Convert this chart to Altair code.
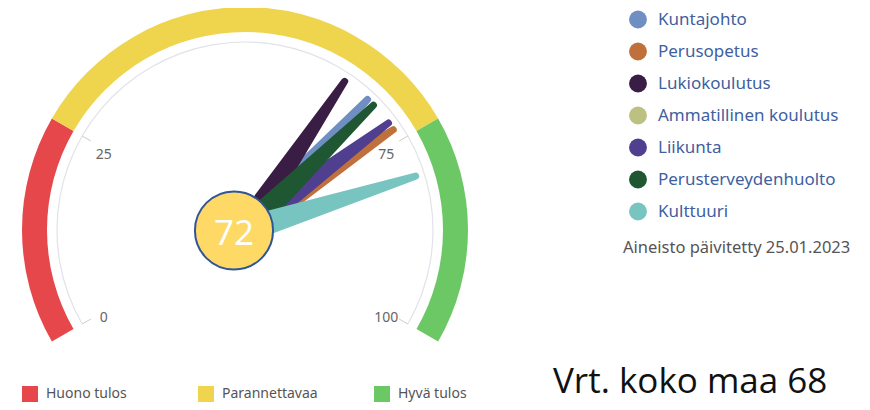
import math
import altair as alt
import pandas as pd

# ---------------- data ----------------
series = ["Kuntajohto", "Perusopetus", "Lukiokoulutus", "Ammatillinen koulutus",
          "Liikunta", "Perusterveydenhuolto", "Kulttuuri"]
series_colors = ["#6f8fc3", "#c0703a", "#3a1d45", "#bcc081",
                 "#4f3f8e", "#1f5733", "#78c4c0"]
series_values = [68.0, 73.3, 64.1, None, 72.2, 69.1, 80.2]

bands = ["Huono tulos", "Parannettavaa", "Hyvä tulos"]
band_start = [0, 25, 75]
band_end = [25, 75, 100]
band_colors = ["#e5474b", "#efd44e", "#6cc865"]

tick_values = [0, 25, 75, 100]
axis_min, axis_max = 0, 100

overall_score = 72
national_score = 68
updated_text = "Aineisto päivitetty 25.01.2023"

# ---------------- layout / style ----------------
W, H = 854, 394
CX, CY = 237, 222          # gauge centre in view px
R_OUT, R_IN = 223, 198     # colour band
R_LINE = 188               # thin grey arc
R_TICK_IN = 178
R_LABEL = 163
LABEL_DY = 6
NEEDLE_LEN = 179
NEEDLE_BASE, NEEDLE_TIP = 26, 7
START_DEG, END_DEG = -120, 120
LEG_X, LEG_Y0, LEG_DY = 630, 11.5, 32.0

xs = alt.Scale(domain=[-200, 200], range=[CX - 200, CX + 200])
ys = alt.Scale(domain=[-200, 200], range=[CY + 200, CY - 200])
theta_scale = alt.Scale(domain=[axis_min, axis_max],
                        range=[(360 + START_DEG) * math.pi / 180,
                               (360 + END_DEG) * math.pi / 180])

ang_expr = (f"({START_DEG} + ({END_DEG} - {START_DEG}) * (datum.v - {axis_min}) / "
            f"({axis_max} - {axis_min})) * PI / 180")

bands_df = pd.DataFrame({"band": bands, "start": band_start, "end": band_end})
line_df = pd.DataFrame({"lo": [axis_min], "hi": [axis_max]})
ticks_df = pd.DataFrame({"v": tick_values})

needle_rows = []
for s, v in zip(series, series_values):
    if v is None:
        continue
    for p in (0, 1):
        needle_rows.append({"series": s, "v": v, "pos": p})
needle_df = pd.DataFrame(needle_rows)

legend_df = pd.DataFrame({"series": series, "i": list(range(len(series)))})
score_df = pd.DataFrame({"score": [overall_score]})
nat_df = pd.DataFrame({"n": [national_score]})
upd_df = pd.DataFrame({"t": [updated_text]})

series_scale = alt.Scale(domain=series, range=series_colors)

# ---------------- layers ----------------
band_layer = alt.Chart(bands_df).mark_arc(radius=R_OUT, radius2=R_IN).encode(
    x=alt.value(CX), y=alt.value(CY),
    theta=alt.Theta("start:Q", scale=theta_scale, stack=None),
    theta2="end:Q",
    color=alt.Color("band:N", scale=alt.Scale(domain=bands, range=band_colors),
                    legend=alt.Legend(orient="none", legendX=14, legendY=378,
                                      direction="horizontal", title=None,
                                      symbolType="square", symbolSize=256,
                                      symbolStrokeWidth=0, symbolOpacity=1,
                                      labelFontSize=14, labelColor="#555555",
                                      labelFont="Noto Sans", labelOffset=8,
                                      columnPadding=56, gridAlign="all",
                                      padding=0)),
)

line_layer = alt.Chart(line_df).mark_arc(radius=R_LINE + 0.6, radius2=R_LINE - 0.6,
                                         color="#e2e2ea").encode(
    x=alt.value(CX), y=alt.value(CY),
    theta=alt.Theta("lo:Q", scale=theta_scale, stack=None),
    theta2="hi:Q",
)

tick_layer = alt.Chart(ticks_df).transform_calculate(
    a=ang_expr
).transform_calculate(
    x1=f"{R_LINE}*sin(datum.a)", y1=f"{R_LINE}*cos(datum.a)",
    x2=f"{R_TICK_IN}*sin(datum.a)", y2=f"{R_TICK_IN}*cos(datum.a)",
).mark_rule(color="#cccccc", strokeWidth=1).encode(
    x=alt.X("x1:Q", scale=xs, axis=None),
    y=alt.Y("y1:Q", scale=ys, axis=None),
    x2="x2:Q", y2="y2:Q",
)

tick_label_layer = alt.Chart(ticks_df).transform_calculate(
    a=ang_expr
).transform_calculate(
    lx=f"{R_LABEL}*sin(datum.a)", ly=f"{R_LABEL}*cos(datum.a)",
).mark_text(fontSize=14, color="#666666", font="Noto Sans", dy=LABEL_DY).encode(
    x=alt.X("lx:Q", scale=xs, axis=None),
    y=alt.Y("ly:Q", scale=ys, axis=None),
    text=alt.Text("v:Q"),
)

needle_layer = alt.Chart(needle_df).transform_calculate(
    a=ang_expr,
    r=f"datum.pos*{NEEDLE_LEN}",
    w=f"{NEEDLE_BASE} + datum.pos*({NEEDLE_TIP} - {NEEDLE_BASE})",
).transform_calculate(
    nx="datum.r*sin(datum.a)", ny="datum.r*cos(datum.a)",
).mark_trail().encode(
    x=alt.X("nx:Q", scale=xs, axis=None),
    y=alt.Y("ny:Q", scale=ys, axis=None),
    size=alt.Size("w:Q", scale=None, legend=None),
    color=alt.Color("series:N", scale=series_scale, legend=None),
    detail="series:N",
    order="pos:Q",
)

circle_layer = alt.Chart(score_df).mark_point(
    shape="circle", filled=True, size=6100, fill="#ffd966",
    stroke="#2f5597", strokeWidth=2, opacity=1, fillOpacity=1, strokeOpacity=1,
).encode(x=alt.value(226), y=alt.value(222.5))

score_text = alt.Chart(score_df).mark_text(
    font="Open Sans", fontSize=35, color="white", baseline="alphabetic", align="center"
).encode(x=alt.value(226), y=alt.value(237), text=alt.Text("score:Q"))

legend_sym = alt.Chart(legend_df).transform_calculate(
    ly=f"{LEG_Y0} + datum.i*{LEG_DY}"
).mark_point(shape="circle", filled=True, size=320, opacity=1).encode(
    x=alt.value(LEG_X),
    y=alt.Y("ly:Q", scale=None, axis=None),
    color=alt.Color("series:N", scale=series_scale, legend=None),
)

legend_txt = alt.Chart(legend_df).transform_calculate(
    ly=f"{LEG_Y0} + datum.i*{LEG_DY}"
).mark_text(align="left", baseline="middle", font="Noto Sans", fontSize=17,
            color="#3f5f9f").encode(
    x=alt.value(LEG_X + 20),
    y=alt.Y("ly:Q", scale=None, axis=None),
    text="series:N",
)

nat_text = alt.Chart(nat_df).transform_calculate(
    label="'Vrt. koko maa ' + datum.n"
).mark_text(font="Open Sans", fontSize=35, color="#111111",
            baseline="alphabetic", align="left").encode(
    x=alt.value(545), y=alt.value(385), text="label:N")

upd_text = alt.Chart(upd_df).mark_text(
    font="Noto Sans", fontSize=16.5, color="#555555", baseline="middle", align="left"
).encode(x=alt.value(615), y=alt.value(240), text="t:N")

chart = alt.layer(
    band_layer, line_layer, tick_layer, tick_label_layer, needle_layer,
    circle_layer, score_text, legend_sym, legend_txt, nat_text, upd_text,
).resolve_scale(
    color="independent", x="independent", y="independent"
).properties(
    width=W, height=H, padding=0, background="white",
    autosize=alt.AutoSizeParams(type="none"),
).configure_view(stroke=None)

chart.save("out.html", embed_options={"renderer": "svg", "actions": False})
